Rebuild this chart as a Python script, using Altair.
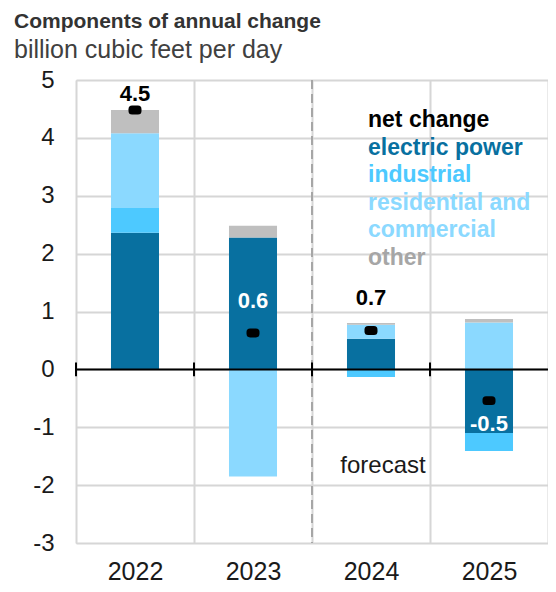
import altair as alt
import pandas as pd

# ---- data ----
years = ["2022", "2023", "2024", "2025"]
electric_power = [2.36, 2.28, 0.53, -1.10]
industrial = [0.43, 0.0, -0.13, -0.31]
res_comm = [1.29, -1.85, 0.24, 0.81]
other = [0.40, 0.20, 0.03, 0.06]
net_change = [4.48, 0.63, 0.67, -0.54]
net_labels = ["4.5", "0.6", "0.7", "-0.5"]
y_ticks = [-3, -2, -1, 0, 1, 2, 3, 4, 5]
components = ["electric power", "industrial", "residential and commercial", "other"]
bar_colors = ["#0870a0", "#4dc9ff", "#8bd9ff", "#bfbfbf"]
legend_colors = ["#0870a0", "#4dc9ff", "#8bd9ff", "#a6a6a6"]
forecast_start = "2024"

FONT = "Liberation Sans"

rows = []
for i, y in enumerate(years):
    for k, (comp, vals) in enumerate(zip(components, [electric_power, industrial, res_comm, other])):
        rows.append({"year": y, "component": comp, "value": vals[i], "order": k})
df = pd.DataFrame(rows)
net_df = pd.DataFrame({"year": years, "net": net_change, "label": net_labels})

x_enc = alt.X(
    "year:N",
    scale=alt.Scale(domain=years, paddingInner=0, paddingOuter=0),
    axis=alt.Axis(
        title=None, ticks=False, domain=False, grid=True, tickBand="extent",
        gridColor="#d6d6d6", gridWidth=2, labelFontSize=25, labelFont=FONT,
        labelColor="#1a1a1a", labelPadding=16, labelAngle=0,
    ),
)
y_enc = alt.Y(
    "value:Q",
    stack="zero",
    scale=alt.Scale(domain=[-3, 5], nice=False, zero=False),
    axis=alt.Axis(
        title=None, values=y_ticks, ticks=False, domain=False, grid=True,
        gridColor="#d6d6d6", gridWidth=2, labelFontSize=24, labelFont=FONT,
        labelColor="#1a1a1a", labelPadding=22, labelExpr="'' + datum.value",
    ),
)

bars = alt.Chart(df).mark_bar(width=alt.RelativeBandSize(0.407)).encode(
    x=x_enc,
    y=y_enc,
    color=alt.Color("component:N", scale=alt.Scale(domain=components, range=bar_colors), legend=None),
    order=alt.Order("order:Q"),
)

dash = alt.Chart(pd.DataFrame({"year": [forecast_start]})).mark_rule(
    color="#a6a6a6", strokeWidth=2, strokeDash=[9, 5]
).encode(x=alt.X("year:N", bandPosition=0))

zero = alt.Chart(pd.DataFrame({"v": [0]})).mark_rule(color="black", strokeWidth=2).encode(
    y=alt.Y("v:Q")
)

ticks = alt.Chart(pd.DataFrame({"year": years})).mark_rule(color="black", strokeWidth=2).encode(
    x=alt.X("year:N", bandPosition=0),
    y=alt.datum(0.12),
    y2=alt.datum(-0.12),
)

pill = ("M-0.45,-0.69 L0.45,-0.69 Q1,-0.69 1,-0.14 L1,0.14 Q1,0.69 0.45,0.69 "
        "L-0.45,0.69 Q-1,0.69 -1,0.14 L-1,-0.14 Q-1,-0.69 -0.45,-0.69 Z")
dots = alt.Chart(net_df).mark_point(
    shape=pill, filled=True, size=169, color="black", opacity=1
).encode(x=alt.X("year:N"), y=alt.Y("net:Q"))

label_style = {
    "2022": ("black", -16),
    "2023": ("white", -32),
    "2024": ("black", -33),
    "2025": ("white", 23),
}
label_layers = []
for yr, (col, dy) in label_style.items():
    label_layers.append(
        alt.Chart(net_df).transform_filter(alt.datum.year == yr).mark_text(
            font=FONT, fontSize=22, fontWeight="bold", color=col, dy=dy, baseline="middle"
        ).encode(x=alt.X("year:N"), y=alt.Y("net:Q"), text="label:N")
    )

one = pd.DataFrame({"a": [0]})
legend_entries = [("net change", "black")] + list(zip(components, legend_colors))
legend_layers = []
ly = 47
for name, col in legend_entries:
    txt = name
    if name == "residential and commercial":
        txt = ["residential and", "commercial"]
    legend_layers.append(
        alt.Chart(one).mark_text(
            font=FONT, fontSize=23, fontWeight="bold", color=col, align="left",
            baseline="alphabetic", lineHeight=27.5,
        ).encode(x=alt.value(292), y=alt.value(ly), text=alt.value(txt))
    )
    ly += 55 if name == "residential and commercial" else 27.5

forecast = alt.Chart(one).mark_text(
    font=FONT, fontSize=24, color="#1a1a1a", align="center", baseline="alphabetic"
).encode(x=alt.value(307), y=alt.value(393), text=alt.value("forecast"))

chart = alt.layer(
    bars, dash, zero, ticks, dots, *label_layers, *legend_layers, forecast
).properties(
    width=472,
    height=463,
    autosize=alt.AutoSizeParams(type="none"),
    padding={"left": 68, "top": 72, "right": 0, "bottom": 40},
    title=alt.TitleParams(
        text="Components of annual change",
        subtitle="billion cubic feet per day",
        anchor="start",
        frame="group",
        dx=-62,
        offset=5,
        font=FONT,
        fontSize=21,
        fontWeight="bold",
        color="#333333",
        subtitleFont=FONT,
        subtitleFontSize=25,
        subtitleColor="#404040",
        subtitlePadding=6,
    ),
).configure_view(stroke=None).configure(background="white")

chart.save("out.html", embed_options={"renderer": "svg", "actions": False})
